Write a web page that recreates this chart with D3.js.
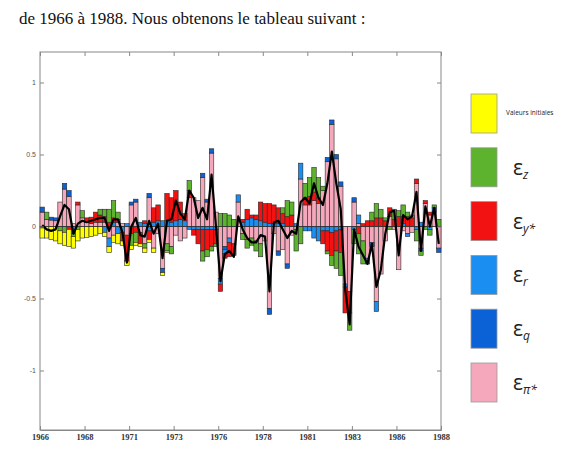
<!DOCTYPE html>
<html lang="fr">
<head>
<meta charset="UTF-8"/>
<title>Décomposition</title>
<script src="https://d3js.org/d3.v7.min.js"></script>
<style>
    body { margin: 0; background: #fff; }
    svg { display: block; }
    .intro { font-family: "Liberation Serif", "Times New Roman", serif; font-size: 17px; fill: #111; }
    .ylab { font-family: "Liberation Sans", Arial, sans-serif; font-size: 7px; fill: #555; }
    .xlab { font-family: "Liberation Serif", serif; font-size: 8.5px; font-weight: bold; fill: #333; }
    .leg { font-family: "Open Sans", "DejaVu Sans", sans-serif; fill: #222; }
</style>
</head>
<body>
<script>
// trimestres 1966T1 .. 1988T2 (90 barres)
var xTicks = [0, 10, 20, 30, 40, 50, 60, 70, 80, 90];
var xTickLabels = ["1966", "1968", "1971", "1973", "1976", "1978", "1981", "1983", "1986", "1988"];
var yTicks = [1, 0.5, 0, -0.5, -1];
var yTickLabels = ["1", "0.5", "0", "-0.5", "-1"];

// contributions
var valInit = [-.07,-.08,-.09,-.10,-.09,-.09,-.12,-.08,-.08,-.08, -.075,-.07,-.06,-.05,-.03,-.04,-.05,-.07,-.03,-.03,
    -.03,-.02,-.02,-.03,-.02,-.03,0,-.02,-.01,0, 0,0,0,0,0,0,0,0,0,0, 0,0,0,0,0,0,0,0,0,0,
    0,0,0,0,0,0,0,0,0,0, 0,0,0,0,0,0,0,0,0,0, 0,0,0,0,0,0,0,0,0,0, 0,0,0,0,0,0,0,0,0,0];
var epsZ = [0,.05,0,0,-.03,-.04,0,-.02,-.02,.05, 0,0,0,.04,.05,.09,.12,.05,0,0,
    -.08,-.07,0,-.03,0,0,0,0,-.05,-.05, 0,0,0,.07,0,0,-.07,-.05,-.03,-.02,
    .09,.09,.08,.05,0,-.04,-.06,-.05,-.07,-.09, 0,0,0,0,.04,.11,.09,-.15,-.12,.10,
    .13,.17,.14,.03,-.02,-.07,-.12,-.16,0,-.12, -.10,-.14,-.16,0,.06,.10,.06,.02,-.02,.07,
    .04,.08,.03,.02,-.08,-.03,-.02,-.04,.02,.05];
var epsY = [-.01,0,0,0,0,0,-.02,0,.02,0, .03,.045,.07,.05,.04,.03,.03,.02,-.06,-.18,
    -.05,-.04,-.08,.02,-.06,.10,.11,0,.19,.17, .21,.12,.05,.05,-.04,-.10,-.15,-.14,-.12,-.10,
    -.05,-.03,-.10,-.08,0,.02,.07,.02,.03,.13, .13,.14,.13,.11,.07,.07,.08,0,0,.05,
    .06,.06,.04,-.09,-.14,-.16,-.14,-.16,-.18,-.15, 0,-.05,.02,.04,.04,.06,.06,.04,.06,.05,
    .07,.05,.07,.06,.03,0,.02,.02,0,0];
var epsR = [0,0,0,0,0,0,0,-.05,0,0, 0,0,0,0,-.04,-.06,.03,-.05,-.04,.02,
    0,0,.03,.02,-.03,.03,.04,.04,.04,.03, .04,.05,.04,-.02,-.02,-.02,-.02,-.02,-.02,-.02,
    -.04,-.03,-.03,0,.05,.03,.05,.06,.05,.04, .03,.02,.02,.02,.02,0,0,.02,.11,-.03,
    -.03,-.08,-.10,-.03,-.03,-.04,-.03,-.02,-.02,0, -.02,.06,0,-.04,0,-.07,0,0,0,0,
    0,.02,-.02,0,-.02,.03,0,-.02,0,0];
var epsQ = [.035,0,.02,.02,0,.04,.04,0,0,0, 0,0,0,0,0,0,0,0,0,0,
    .02,.02,0,0,.03,0,0,-.03,0,0, 0,0,0,0,0,0,.03,.02,.03,0,
    0,-.02,0,0,0,0,0,0,0,0, 0,-.04,0,-.03,0,-.03,0,0,0,0,
    0,0,0,0,.03,.03,.03,.03,0,0, .03,0,0,0,-.03,0,0,0,0,0,
    0,0,0,0,0,-.02,0,0,.03,-.03];
var epsPi = [.10,.05,.045,.04,.17,.26,.21,.02,.15,.06, .03,.02,.03,.03,.03,-.08,-.06,.03,.02,-.06,
    .15,.17,-.04,-.12,.20,-.15,-.05,-.29,-.12,-.14, -.06,-.10,-.08,.20,.20,.18,.34,.17,.51,.10,
    -.36,-.14,-.08,-.12,.17,-.05,-.09,-.08,-.10,-.12, -.10,-.57,-.05,-.17,-.16,-.26,-.06,-.02,.33,.15,
    .15,.18,.16,.25,.45,.71,.47,.28,-.40,-.45, .17,.02,-.10,-.22,-.11,-.52,-.33,-.10,.07,-.02,
    -.30,-.03,-.05,-.04,.30,-.15,.16,.08,.10,-.15];
// courbe noire (total)
var total = [.01,-.02,-.03,-.02,.07,.15,.12,-.05,.02,.04, .03,.04,.05,.06,.06,-.03,.05,.05,-.04,-.25,
    0,.06,-.06,-.07,.04,-.05,.02,-.22,.04,.05, .18,.09,.05,.25,.20,.06,.13,.05,.36,0,
    -.38,-.19,-.17,-.21,.07,-.02,-.08,-.11,-.11,-.06, -.07,-.45,.03,.04,-.02,-.08,-.03,-.05,.17,.20,
    .16,.30,.20,.15,.30,.52,.30,.12,-.44,-.68, -.02,-.14,-.20,-.26,-.12,-.42,-.30,-.05,.10,.11,
    -.20,.08,.05,.07,.24,-.17,.14,0,.13,-.12];

var series = [
    {key: "pi", label: "π*", color: "#f5a8bb", values: epsPi},
    {key: "q", label: "q", color: "#0b62d6", values: epsQ},
    {key: "r", label: "r", color: "#1b8ef2", values: epsR},
    {key: "y", label: "y*", color: "#f21212", values: epsY},
    {key: "z", label: "z", color: "#5db22e", values: epsZ},
    {key: "init", label: "Valeurs initiales", color: "#ffff00", values: valInit}
];

var W = 583, H = 453;
var svg = d3.select("body").append("svg").attr("width", W).attr("height", H);

svg.append("text").attr("class", "intro").attr("x", 19).attr("y", 24)
    .text("de 1966 à 1988. Nous obtenons le tableau suivant :");

var x = d3.scaleLinear().domain([0, 90]).range([40, 441]);
var y = d3.scaleLinear().domain([-1.413, 1.212]).range([430, 52]);

// table for stacking
var rows = total.map(function (t, i) {
    var r = {i: i};
    series.forEach(function (s) { r[s.key] = s.values[i]; });
    return r;
});
var stacked = d3.stack().keys(series.map(function (s) { return s.key; }))
    .offset(d3.stackOffsetDiverging)(rows);

// box
svg.append("rect").attr("x", 40).attr("y", 52).attr("width", 401).attr("height", 378)
    .attr("fill", "none").attr("stroke", "#888").attr("stroke-width", 1);

var g = svg.append("g");
stacked.forEach(function (layer, k) {
    g.append("g").selectAll("rect").data(layer).enter().append("rect")
        .attr("x", function (d) { return x(d.data.i); })
        .attr("width", x(1) - x(0))
        .attr("y", function (d) { return y(Math.max(d[0], d[1])); })
        .attr("height", function (d) { return Math.abs(y(d[0]) - y(d[1])); })
        .attr("fill", series[k].color)
        .attr("stroke", "#2a2a2a")
        .attr("stroke-width", 0.6);
});

// zero line
svg.append("line").attr("x1", 40).attr("x2", 441).attr("y1", y(0)).attr("y2", y(0))
    .attr("stroke", "#333").attr("stroke-width", 0.7);

// total line
svg.append("path").datum(total)
    .attr("fill", "none").attr("stroke", "#000").attr("stroke-width", 2.2)
    .attr("stroke-linejoin", "round")
    .attr("d", d3.line().x(function (d, i) { return x(i + 0.5); }).y(function (d) { return y(d); }));

// axes
var xb = d3.axisBottom(x).tickValues(xTicks).tickSize(-4)
    .tickFormat(function (d, i) { return xTickLabels[i]; });
var xa = svg.append("g").attr("transform", "translate(0,430)").call(xb);
xa.select(".domain").attr("stroke", "#888");
xa.selectAll("line").attr("stroke", "#888");
xa.selectAll("text").attr("class", "xlab").attr("dy", "0.9em").attr("y", 2);

var xt = svg.append("g").attr("transform", "translate(0,52)")
    .call(d3.axisTop(x).tickValues(xTicks).tickSize(-4).tickFormat(""));
xt.select(".domain").remove();
xt.selectAll("line").attr("stroke", "#888");

var yl = svg.append("g").attr("transform", "translate(40,0)")
    .call(d3.axisLeft(y).tickValues(yTicks).tickSize(-4)
        .tickFormat(function (d, i) { return yTickLabels[i]; }));
yl.select(".domain").remove();
yl.selectAll("line").attr("stroke", "#888");
yl.selectAll("text").attr("class", "ylab").attr("x", -4);

var yr = svg.append("g").attr("transform", "translate(441,0)")
    .call(d3.axisRight(y).tickValues(yTicks).tickSize(-4).tickFormat(""));
yr.select(".domain").remove();
yr.selectAll("line").attr("stroke", "#888");

// legend (order : valeurs initiales, z, y*, r, q, pi*)
var legOrder = ["init", "z", "y", "r", "q", "pi"];
var lg = svg.append("g");
legOrder.forEach(function (key, j) {
    var s = series.find(function (d) { return d.key === key; });
    var top = 94 + j * 53.8;
    lg.append("rect").attr("x", 471).attr("y", top).attr("width", 26).attr("height", 39)
        .attr("fill", s.color).attr("stroke", "#999").attr("stroke-width", 0.8);
    if (key === "init") {
        lg.append("text").attr("class", "leg").attr("x", 506).attr("y", top + 21)
            .attr("font-size", 6.5).text(s.label);
    } else {
        var t = lg.append("text").attr("class", "leg").attr("x", 513).attr("y", top + 27)
            .attr("font-size", 21);
        t.append("tspan").text("ε");
        t.append("tspan").attr("font-size", 12).attr("dy", 4).attr("font-style", "italic").text(s.label);
    }
});
</script>
</body>
</html>
